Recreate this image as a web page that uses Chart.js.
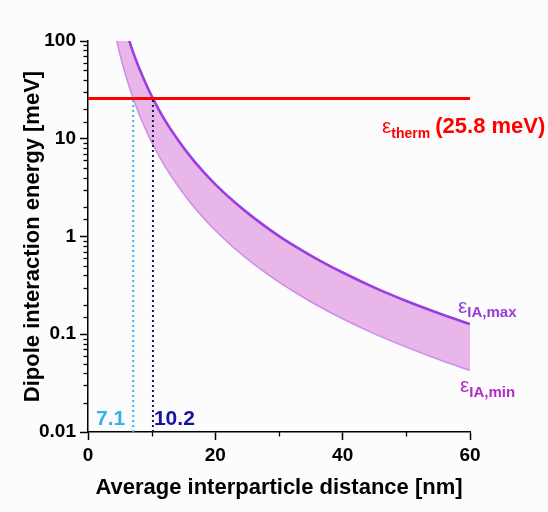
<!DOCTYPE html>
<html>
<head>
<meta charset="utf-8">
<script src="https://cdn.jsdelivr.net/npm/chart.js@4/dist/chart.umd.min.js"></script>
<style>
  html, body { margin: 0; padding: 0; background: #fcfcfc; }
  #wrap { width: 548px; height: 512px; }
</style>
</head>
<body>
<div id="wrap"><canvas id="dipoleChart"></canvas></div>
<script>
// distance (nm) and energy bounds (meV)
const distNm = [4.4, 5, 5.5, 6, 6.5, 7, 7.5, 8, 9, 10, 11, 12, 14, 16, 18, 20, 23, 26, 30, 35, 40, 45, 50, 55, 60];
const eMax   = [321, 219, 165, 127, 99.7, 79.8, 64.9, 53.5, 37.6, 27.4, 20.6, 15.8, 9.98, 6.68, 4.69, 3.42, 2.25, 1.56, 1.01, 0.639, 0.428, 0.300, 0.219, 0.165, 0.127];
const eMin   = [108, 73.9, 55.5, 42.8, 33.6, 26.9, 21.9, 18.0, 12.7, 9.23, 6.94, 5.34, 3.37, 2.25, 1.58, 1.15, 0.759, 0.525, 0.342, 0.215, 0.144, 0.101, 0.0739, 0.0555, 0.0427];

const thermX = [0, 60];
const thermE = 25.8;
const crossMin = 7.1;
const crossMax = 10.2;

const xTickValues = [0, 20, 40, 60];
const xTickLabels = ['0', '20', '40', '60'];
const yTickValues = [0.01, 0.1, 1, 10, 100];
const yTickLabels = ['0.01', '0.1', '1', '10', '100'];

const FONT = 'Arial, "Liberation Sans", sans-serif';

function isDecade(v) {
  const l = Math.log10(v);
  return Math.abs(l - Math.round(l)) < 1e-6;
}

function yLabel(v) {
  const i = yTickValues.findIndex(t => Math.abs(Math.log10(t) - Math.log10(v)) < 1e-6);
  return i >= 0 ? yTickLabels[i] : '';
}

function xLabel(v) {
  const i = xTickValues.indexOf(v);
  return i >= 0 ? xTickLabels[i] : '';
}

const bgPlugin = {
  id: 'bg',
  beforeDraw(chart) {
    const { ctx, width, height } = chart;
    ctx.save();
    ctx.fillStyle = '#fcfcfc';
    ctx.fillRect(0, 0, width, height);
    ctx.restore();
  }
};

// short minor ticks (the library draws all ticks at one length)
const minorTicks = {
  id: 'minorTicks',
  afterDraw(chart) {
    const { ctx, scales: { x, y } } = chart;
    ctx.save();
    ctx.strokeStyle = '#000';
    ctx.lineWidth = 1.3;
    y.ticks.forEach(t => {
      if (isDecade(t.value)) return;
      const py = Math.round(y.getPixelForValue(t.value)) + 0.5;
      ctx.beginPath();
      ctx.moveTo(y.right - 4.5, py);
      ctx.lineTo(y.right, py);
      ctx.stroke();
    });
    x.ticks.forEach(t => {
      if (xTickValues.includes(t.value)) return;
      const px = Math.round(x.getPixelForValue(t.value)) + 0.5;
      ctx.beginPath();
      ctx.moveTo(px, x.top);
      ctx.lineTo(px, x.top + 4.5);
      ctx.stroke();
    });
    ctx.restore();
  }
};

function epsLabel(ctx, px, base, sub, subSize, subDrop, rest, color) {
  ctx.fillStyle = color;
  ctx.textAlign = 'left';
  ctx.textBaseline = 'alphabetic';
  ctx.font = '21px ' + FONT;
  ctx.fillText('\u03B5', px, base);
  let cx = px + ctx.measureText('\u03B5').width;
  ctx.font = 'bold ' + subSize + 'px ' + FONT;
  ctx.fillText(sub, cx, base + subDrop);
  cx += ctx.measureText(sub).width;
  if (rest) {
    ctx.font = 'bold 22px ' + FONT;
    ctx.fillText(rest, cx + 5, base);
  }
}

const annotations = {
  id: 'annotations',
  afterDatasetsDraw(chart) {
    const { ctx, chartArea, scales: { x, y } } = chart;
    const n = distNm.length - 1;
    const xEnd = x.getPixelForValue(distNm[n]);
    ctx.save();

    epsLabel(ctx, xEnd - 88, y.getPixelForValue(thermE) + 34, 'therm', 14, 5,
      '(' + thermE.toFixed(1) + ' meV)', '#ff0000');
    epsLabel(ctx, xEnd - 12, y.getPixelForValue(eMax[n]) - 11, 'IA,max', 15, 4, '', '#9a3ad8');
    epsLabel(ctx, xEnd - 10, y.getPixelForValue(eMin[n]) + 22, 'IA,min', 15, 5, '', '#b02cc4');

    ctx.font = 'bold 21px ' + FONT;
    ctx.textBaseline = 'alphabetic';
    ctx.fillStyle = '#2eb3ea';
    ctx.textAlign = 'right';
    ctx.fillText(crossMin.toFixed(1), x.getPixelForValue(crossMin) - 8, chartArea.bottom - 7);
    ctx.fillStyle = '#1414a0';
    ctx.textAlign = 'left';
    ctx.fillText(crossMax.toFixed(1), x.getPixelForValue(crossMax) + 1, chartArea.bottom - 7);

    ctx.restore();
  }
};

const ctx = document.getElementById('dipoleChart').getContext('2d');

new Chart(ctx, {
  type: 'line',
  data: {
    datasets: [
      {
        data: thermX.map(v => ({ x: v, y: thermE })),
        borderColor: '#ff0000',
        borderWidth: 2.8,
        pointRadius: 0,
        fill: false
      },
      {
        data: [{ x: crossMin, y: yTickValues[0] }, { x: crossMin, y: thermE }],
        borderColor: '#33b8ec',
        borderWidth: 2,
        borderDash: [2, 3],
        pointRadius: 0,
        fill: false
      },
      {
        data: [{ x: crossMax, y: yTickValues[0] }, { x: crossMax, y: thermE }],
        borderColor: '#15155e',
        borderWidth: 2,
        borderDash: [2, 3],
        pointRadius: 0,
        fill: false
      },
      {
        data: distNm.map((d, i) => ({ x: d, y: eMin[i] })),
        borderColor: '#cc8ee8',
        borderWidth: 1.5,
        pointRadius: 0,
        cubicInterpolationMode: 'monotone',
        fill: false
      },
      {
        data: distNm.map((d, i) => ({ x: d, y: eMax[i] })),
        borderColor: '#9a3de2',
        borderWidth: 2.6,
        backgroundColor: '#e8b6e8',
        pointRadius: 0,
        cubicInterpolationMode: 'monotone',
        fill: 3
      }
    ]
  },
  options: {
    responsive: true,
    maintainAspectRatio: false,
    animation: false,
    layout: { padding: { top: 41, right: 78, left: 0, bottom: 0 } },
    plugins: {
      legend: { display: false },
      tooltip: { enabled: false }
    },
    scales: {
      x: {
        type: 'linear',
        min: 0,
        max: 60,
        afterFit: s => { s.height = 80; },
        border: { color: '#000', width: 1.5 },
        grid: {
          drawOnChartArea: false,
          tickLength: 8,
          tickWidth: 1.5,
          tickColor: c => (c.tick && xTickValues.includes(c.tick.value)) ? '#000' : 'rgba(0,0,0,0)'
        },
        ticks: {
          stepSize: 10,
          autoSkip: false,
          maxRotation: 0,
          padding: 4,
          color: '#000',
          font: { family: FONT, size: 19, weight: 'bold' },
          callback: v => xLabel(v)
        },
        title: {
          display: true,
          text: 'Average interparticle distance [nm]',
          color: '#000',
          font: { family: FONT, size: 22, weight: 'bold' },
          padding: { top: 11, bottom: 11 }
        }
      },
      y: {
        type: 'logarithmic',
        min: 0.01,
        max: 100,
        afterFit: s => { s.width = 88; },
        border: { color: '#000', width: 1.5 },
        grid: {
          drawOnChartArea: false,
          tickLength: 8,
          tickWidth: 1.5,
          tickColor: c => (c.tick && isDecade(c.tick.value)) ? '#000' : 'rgba(0,0,0,0)'
        },
        ticks: {
          autoSkip: false,
          padding: 4,
          color: '#000',
          font: { family: FONT, size: 19, weight: 'bold' },
          callback: v => yLabel(v)
        },
        title: {
          display: true,
          text: 'Dipole interaction energy [meV]',
          color: '#000',
          font: { family: FONT, size: 22, weight: 'bold' },
          padding: { top: 20, bottom: 20 }
        }
      }
    }
  },
  plugins: [bgPlugin, minorTicks, annotations]
});
</script>
</body>
</html>
